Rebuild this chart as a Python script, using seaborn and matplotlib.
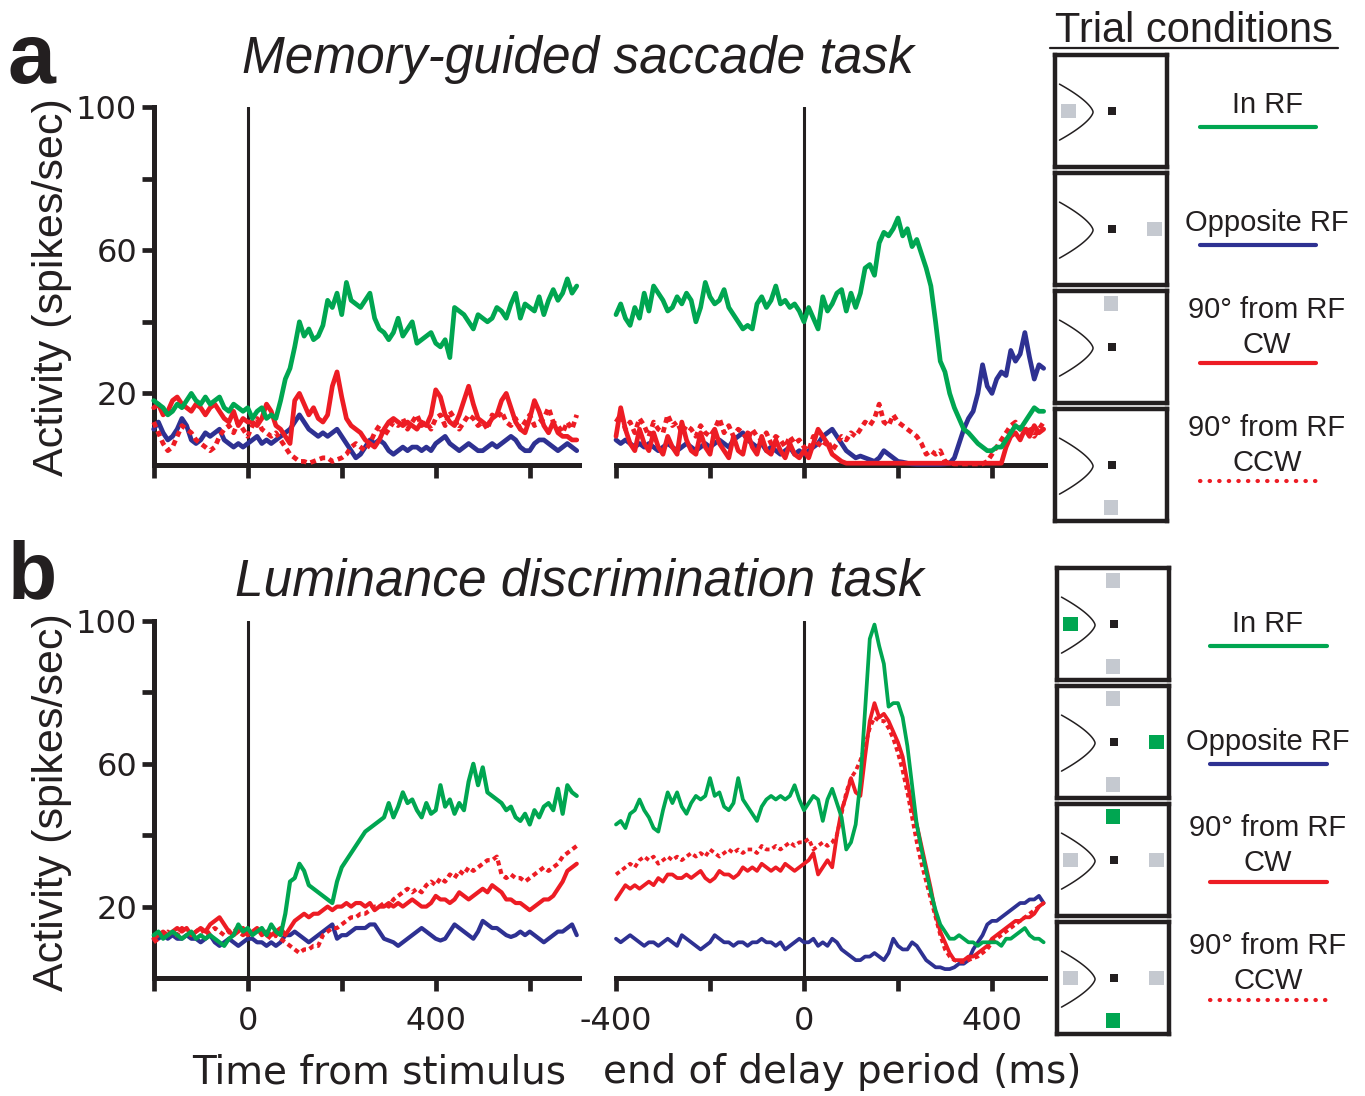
import numpy as np
import pandas as pd
import matplotlib
matplotlib.use("Agg")
import matplotlib.pyplot as plt
import seaborn as sns
from matplotlib.lines import Line2D
from matplotlib.patches import Rectangle

# ---------------- data (spikes/sec, 10 ms bins) ----------------
T_STIM = np.arange(-200, 701, 10)   # time from stimulus
T_END = np.arange(-400, 511, 10)    # time from end of delay period

# panel a : memory-guided saccade task, aligned on stimulus
A_L_IN = [18,17,16,14,15,17,16,18,20,18, 17,19,17,18,19,16,15,17,16,15,
          16,13,15,16,13,14,13,18,24,27, 33,40,36,38,35,36,39,46,44,48,
          42,51,46,45,44,46,48,41,38,37, 35,37,41,36,38,40,34,35,36,37,
          34,33,35,30,44,43,42,40,38,42, 41,40,41,44,43,41,45,48,41,45,
          44,43,47,42,46,49,46,48,52,48, 50]
A_L_OPP = [10,12,9,7,8,10,13,11,7,6, 7,9,8,9,10,7,6,5,6,5,
           6,7,8,6,7,6,7,8,9,10, 12,14,12,10,9,8,9,8,9,10,
           8,6,4,2,3,5,7,6,7,6, 4,3,4,5,4,5,5,4,5,4,
           6,7,8,6,5,4,5,6,5,4, 4,5,6,5,6,7,8,7,5,4,
           4,6,7,7,6,5,4,5,6,5, 4]
A_L_CW = [16,17,14,15,18,19,17,16,15,17, 16,14,16,17,15,13,12,15,11,13,
          12,12,11,13,17,15,11,10,8,6, 18,20,17,14,16,13,12,14,22,26,
          19,13,11,10,9,7,6,5,7,10, 12,13,12,11,12,11,10,12,11,14,
          21,19,14,12,11,14,18,22,17,13, 12,11,13,14,18,20,16,12,10,9,
          13,18,15,11,9,12,9,8,8,7, 7]
A_L_CCW = [12,9,6,4,5,8,11,10,9,7, 6,5,4,5,8,10,11,9,12,10,
           8,11,13,10,9,8,9,7,5,3, 2,1,1,0.5,1,1.5,2,2,1,1.5,
           2,3,5,6,5,4,6,9,11,8, 10,12,11,13,10,12,14,11,12,10,
           13,14,11,15,13,10,12,14,13,11, 12,10,14,13,15,12,11,13,10,12,
           14,11,12,13,16,12,11,9,12,10, 14]

# panel a : aligned on end of delay period
A_R_IN = [42,45,41,39,44,41,48,43,50,48, 46,43,44,47,45,48,46,40,44,51,
          47,45,46,49,44,42,40,38,39,38, 45,47,44,46,50,45,46,44,45,43,
          40,44,41,38,47,43,45,48,49,43, 48,44,48,55,56,53,62,65,64,66,
          69,64,66,61,63,59,55,50,40,29, 26,20,16,13,10,9,7.5,6,5,4,
          4,5,5,7,9,11,10,12,14,16, 15,15]
A_R_OPP = [7,6,7,6,5,6,5,6,5,4, 5,6,5,4,5,6,5,4,5,6,
           5,6,7,6,5,7,8,9,7,6, 5,6,4,5,4,3,4,5,3,4,
           3,4,5,6,8,9,10,8,6,4, 3,2,2.5,2,1.5,1,2,4,3,2,
           1,0.8,0.5,0.3,0.2,0.2,0.2,0.2,0.2,0.2, 0.3,0.5,2,6,10,13,15,20,28,22,
           20,24,26,25,32,29,31,37,30,24, 28,27]
A_R_CW = [8,16,10,6,4,10,6,4,9,5, 3,8,5,3,12,7,4,3,9,5,
          3,10,6,4,2,8,4,3,9,5, 3,8,4,3,7,4,2,6,3,2,
          4,2,6,10,8,6,3,2,1,0.5, 0.5,0.5,0.5,0.5,0.5,0.5,0.5,0.5,0.5,0.5,
          0.5,0.5,0.5,0.5,0.5,0.5,0.5,0.5,0.5,0.5, 0.5,0.5,0.5,0.5,0.5,0.5,0.5,0.5,0.5,0.5,
          0.5,0.5,0.5,5,8,9,7,10,8,11, 9,10]
A_R_CCW = [12,14,10,12,9,13,11,8,12,10, 9,14,11,12,9,11,10,8,11,9,
           8,10,13,9,11,8,10,9,7,10, 8,7,9,6,8,7,5,8,6,7,
           5,4,8,6,5,7,4,6,8,7, 9,8,10,12,11,13,17,12,11,14,
           12,11,10,9,8,6,3,4,3,4, 1,0.5,0.3,0.3,0.3,0.3,0.3,0.3,0.3,1,
           3,5,7,9,11,12,10,9,11,8, 10,12]

# panel b : luminance discrimination task, aligned on stimulus
B_L_IN = [12,13,11,12,13,12,11,12,13,11, 12,11,12,11,10,9,11,12,15,13,
          14,12,13,14,12,15,13,12,18,27, 28,32,30,26,25,24,23,22,21,27,
          31,33,35,37,39,41,42,43,44,45, 49,45,48,52,49,50,47,45,49,46,
          47,54,48,50,46,49,47,55,60,54, 59,52,51,50,49,47,48,45,44,46,
          43,47,45,48,49,47,53,46,54,52, 51]
B_L_OPP = [11,11,12,11,12,11,11,12,11,11, 10,11,12,10,9,10,11,10,9,10,
           11,11,10,10,9,10,9,10,12,12, 13,12,11,10,11,12,13,14,15,11,
           12,12,13,14,14,14,15,15,13,11, 10.5,10,9,10,11,12,13,14,13,12,
           11,10.5,11,13,15,14,13,12,11,13, 16,15,14,14,13,12,11.5,12,13,12,
           13,12,11,10,11,12,13,13,14,15, 12]
B_L_CW = [11,12,13,12,13,14,13,14,12,13, 14,13,15,16,17,15,13,12,13,14,
          12,13,14,12,13,12,13,14,12,14, 16,17,18,17,18,18,19,20,19,20,
          20,21,20,21,21,20,21,19,20,20, 21,20,21,20,21,22,21,20,20,21,
          23,22,22,21,22,24,23,22,23,24, 25,24,26,25,24,22,22,21,21,20,
          19,20,21,22,22,23,25,27,30,31, 32]
B_L_CCW = [10,11,12,13,12,12,14,13,12,13, 14,12,13,14,13,12,13,14,13,12,
           13,12,14,13,12,11,12,11,10,9, 8,7,8,8,9,9,12,13,14,14,
           15,16,17,17,18,18,19,20,20,21, 20,22,23,24,25,24,25,24,26,27,
           26,28,27,29,28,30,29,31,30,31, 32,33,33,34,29,28,29,28,28,27,
           28,29,30,31,30,31,32,34,35,36, 37]

# panel b : aligned on end of delay period
B_R_IN = [43,44,42,46,47,50,47,45,42,41, 47,52,49,52,48,46,49,51,50,51,
          56,51,52,48,47,49,56,50,48,46, 44,48,50,51,50,51,50,51,54,50,
          47,49,51,50,44,50,53,49,45,36, 38,43,55,75,95,99,93,88,76,77,
          77,73,65,54,43,36,30,24,19,15, 13,11,11,12,11,10,10,9,10,10,
          10,10,9,11,11,12,13,14,12,11, 11,10]
B_R_OPP = [11,10,11,12,11,10,9,10,10,9, 10,11,10,9,12,11,10,9,8,9,
           10,12,11,10,10,9,10,10,9,10, 10,11,10,10,9,10,8,9,10,11,
           10,10,11,9,10,9,11,10,8,7, 6,5,5,6,6,7,6,5,7,11,
           9,8,8,10,9,7,5,4,3,3, 2.5,2.5,3,4,4,5,8,10,12,15,
           16,16,17,18,19,20,21,21,22,22, 23,21]
B_R_CW = [22,24,26,25,26,25,26,27,26,28, 27,29,29,28,28,29,28,29,30,28,
          27,28,30,29,29,28,29,31,30,31, 30,32,31,30,31,30,32,31,30,31,
          32,33,35,29,31,33,31,40,47,51, 56,52,51,62,72,77,73,74,72,69,
          66,62,55,48,43,37,31,25,18,13, 10,7,5,5,5,6,6,7,8,9,
          11,12,13,14,15,16,16,17,17,18, 20,21]
B_R_CCW = [29,30,31,32,31,33,34,33,34,32, 33,34,33,34,33,34,35,34,35,34,
           36,35,34,35,36,35,36,35,36,36, 35,37,36,36,37,36,37,38,37,38,
           38,39,36,37,38,37,38,40,46,52, 56,58,61,65,70,73,72,72,70,67,
           63,58,52,45,38,32,27,22,17,12, 8,6,5,4.5,4.5,5,5.5,6,7,8,
           10,11,12,13,14,15,16,17,18,19, 20,21]

CONDITIONS = ["In RF", "Opposite RF", "90° from RF CW", "90° from RF CCW"]
LEGEND_LINES = [["In RF"], ["Opposite RF"], ["90° from RF", "CW"], ["90° from RF", "CCW"]]
Y_TICKS = [20, 40, 60, 80, 100]
Y_LABELS = ["20", "", "60", "", "100"]
X_TICKS_STIM = [-200, 0, 200, 400, 600]
X_LABELS_STIM = ["", "0", "", "400", ""]
X_TICKS_END = [-400, -200, 0, 200, 400]
X_LABELS_END = ["-400", "", "0", "", "400"]

for arr, tt in [(A_L_IN, T_STIM), (A_L_OPP, T_STIM), (A_L_CW, T_STIM), (A_L_CCW, T_STIM),
                (B_L_IN, T_STIM), (B_L_OPP, T_STIM), (B_L_CW, T_STIM), (B_L_CCW, T_STIM),
                (A_R_IN, T_END), (A_R_OPP, T_END), (A_R_CW, T_END), (A_R_CCW, T_END),
                (B_R_IN, T_END), (B_R_OPP, T_END), (B_R_CW, T_END), (B_R_CCW, T_END)]:
    assert len(arr) == len(tt), (len(arr), len(tt))

# ---------------- style ----------------
sns.set_style("ticks")
plt.rcParams["font.family"] = ["Liberation Sans", "DejaVu Sans"]

INK = "#231f20"
GREEN = "#00a651"
BLUE = "#2e3192"
RED = "#ed1c24"
GRAY = "#c5c9d0"
COLORS = {"In RF": GREEN, "Opposite RF": BLUE, "90° from RF CW": RED, "90° from RF CCW": RED}
DOTTED = (0, (1.2, 0.9))
DRAW_ORDER = ["Opposite RF", "90° from RF CCW", "90° from RF CW", "In RF"]

W, H = 1365, 1096
fig = plt.figure(figsize=(W / 100, H / 100), dpi=100)


def rect(left, top, width, height):
    return [left / W, 1 - (top + height) / H, width / W, height / H]


def draw_panel(ax, t, series, lw, xlim, xticks, xlabels, show_y, show_xlabels):
    df = pd.concat([pd.DataFrame({"t": t, "rate": series[c], "cond": c}) for c in DRAW_ORDER])
    for c in DRAW_ORDER:
        sub = df[df["cond"] == c]
        sns.lineplot(data=sub, x="t", y="rate", ax=ax, color=COLORS[c], lw=lw,
                     linestyle=DOTTED if c.endswith("CCW") else "-",
                     estimator=None, errorbar=None, sort=False, clip_on=False, zorder=3)
    ax.axvline(0, color=INK, lw=2.2, zorder=2)
    ax.set_xlim(*xlim)
    ax.set_ylim(0, 100)
    ax.set_xlabel("")
    ax.set_ylabel("")
    ax.set_xticks(xticks)
    ax.set_xticklabels(xlabels if show_xlabels else [""] * len(xticks))
    if show_y:
        ax.set_yticks(Y_TICKS)
        ax.set_yticklabels(Y_LABELS)
        sns.despine(ax=ax)
        ax.spines["left"].set_linewidth(3.6)
        ax.spines["left"].set_color(INK)
    else:
        ax.set_yticks([])
        sns.despine(ax=ax, left=True)
    ax.spines["bottom"].set_linewidth(3.6)
    ax.spines["bottom"].set_color(INK)
    ax.tick_params(axis="both", direction="out", length=9, width=3.4, color=INK,
                   labelsize=24, labelcolor=INK)
    ax.tick_params(axis="x", pad=11)
    ax.tick_params(axis="y", pad=3)
    for lab in ax.get_xticklabels() + ax.get_yticklabels():
        lab.set_fontfamily(["DejaVu Sans"])
        lab.set_fontsize(23)
    ax.set_facecolor("none")


# time axes (px geometry: 0.47 px per ms)
aL = fig.add_axes(rect(153.7, 107, 425.4, 358))
aR = fig.add_axes(rect(616, 107, 428.6, 358))
bL = fig.add_axes(rect(153.7, 621, 425.4, 357))
bR = fig.add_axes(rect(616, 621, 428.6, 357))

draw_panel(aL, T_STIM, dict(zip(CONDITIONS, [A_L_IN, A_L_OPP, A_L_CW, A_L_CCW])), 3.4,
           (-200, 705), X_TICKS_STIM, X_LABELS_STIM, True, False)
draw_panel(aR, T_END, dict(zip(CONDITIONS, [A_R_IN, A_R_OPP, A_R_CW, A_R_CCW])), 3.4,
           (-400, 512), X_TICKS_END, X_LABELS_END, False, False)
draw_panel(bL, T_STIM, dict(zip(CONDITIONS, [B_L_IN, B_L_OPP, B_L_CW, B_L_CCW])), 3.0,
           (-200, 705), X_TICKS_STIM, X_LABELS_STIM, True, True)
draw_panel(bR, T_END, dict(zip(CONDITIONS, [B_R_IN, B_R_OPP, B_R_CW, B_R_CCW])), 2.7,
           (-400, 512), X_TICKS_END, X_LABELS_END, False, True)

# ---------------- texts ----------------
def ftext(x, y, s, **kw):
    kw.setdefault("color", INK)
    return fig.text(x / W, 1 - y / H, s, **kw)


ftext(8, 83, "a", fontsize=62, fontweight="bold", va="baseline")
ftext(8, 598, "b", fontsize=58, fontweight="bold", va="baseline")
ftext(578, 60, "Memory-guided saccade task", fontsize=37, style="italic", ha="center", va="center")
ftext(579, 582, "Luminance discrimination task", fontsize=37, style="italic", ha="center", va="center")
ftext(52, 287, "Activity (spikes/sec)", fontsize=31, rotation=90, ha="center", va="center")
ftext(52, 802, "Activity (spikes/sec)", fontsize=31, rotation=90, ha="center", va="center")
ftext(379, 1072, "Time from stimulus", fontsize=28, ha="center", va="center", family=["DejaVu Sans"])
ftext(842, 1072, "end of delay period (ms)", fontsize=28, ha="center", va="center", family=["DejaVu Sans"])

# ---------------- trial-condition schematics ----------------
ftext(1194, 31, "Trial conditions", fontsize=30, ha="center", va="center")
fig.add_artist(Line2D([1050 / W, 1338 / W], [1 - 48 / H] * 2, color=INK, lw=1.6))

POS = {"left": (0.12, 0.5), "right": (0.89, 0.5), "top": (0.5, 0.89), "bottom": (0.5, 0.12)}
A_TARGETS = [[("left", GRAY)], [("right", GRAY)], [("top", GRAY)], [("bottom", GRAY)]]
B_TARGETS = [[("left", GREEN), ("top", GRAY), ("bottom", GRAY)],
             [("right", GREEN), ("top", GRAY), ("bottom", GRAY)],
             [("top", GREEN), ("left", GRAY), ("right", GRAY)],
             [("bottom", GREEN), ("left", GRAY), ("right", GRAY)]]


def schematic(left, top, size, targets):
    bx = fig.add_axes(rect(left, top, size, size))
    bx.set_xlim(0, 1)
    bx.set_ylim(0, 1)
    bx.set_xticks([])
    bx.set_yticks([])
    for s in bx.spines.values():
        s.set_linewidth(3.2)
        s.set_color(INK)
    yy = np.linspace(0.24, 0.74, 80)
    xx = 0.34 - 0.30 * np.abs((yy - 0.49) / 0.25) ** 1.5
    bx.plot(xx, yy, color=INK, lw=1.1)
    bx.add_patch(Rectangle((0.51 - 0.036, 0.5 - 0.036), 0.072, 0.072, color=INK, lw=0))
    for where, col in targets:
        cx, cy = POS[where]
        bx.add_patch(Rectangle((cx - 0.066, cy - 0.066), 0.132, 0.132, color=col, lw=0))


def legend_block(box_left, box_tops, targets, text_x, line_x, single_dy, double_dy, line_dy):
    for i, top in enumerate(box_tops):
        schematic(box_left, top, 112, targets[i])
        c = top + 56
        lines = LEGEND_LINES[i]
        if len(lines) == 1:
            ftext(text_x, c + single_dy, lines[0], fontsize=21, ha="center", va="center")
        else:
            ftext(text_x, c + double_dy[0], lines[0], fontsize=21, ha="center", va="center")
            ftext(text_x, c + double_dy[1], lines[1], fontsize=21, ha="center", va="center")
        cond = CONDITIONS[i]
        ly = 1 - (c + line_dy) / H
        if cond.endswith("CCW"):
            fig.add_artist(Line2D([line_x[0] / W, line_x[1] / W], [ly, ly], color=COLORS[cond],
                                  lw=3.0, linestyle=(0, (0.1, 2.2)), dash_capstyle="round"))
        else:
            fig.add_artist(Line2D([line_x[0] / W, line_x[1] / W], [ly, ly], color=COLORS[cond], lw=3.0))


legend_block(1055, [55, 173, 291, 409], A_TARGETS, 1267, (1200, 1316), -6, (-37, -2), 16)
legend_block(1057, [568, 686, 804, 922], B_TARGETS, 1268, (1210, 1327), 0, (-32, 3), 22)

fig.savefig("out.png", dpi=100, facecolor="white")
